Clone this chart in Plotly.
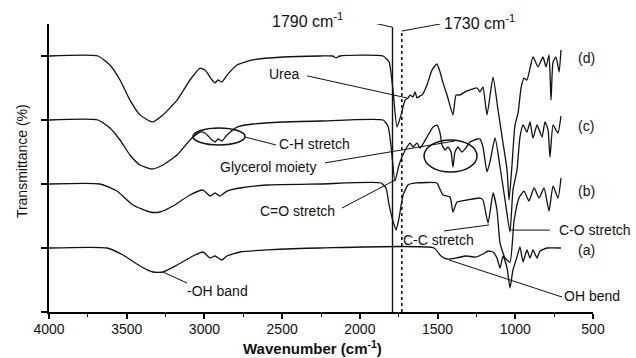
import plotly.graph_objects as go

# FTIR spectra, stacked: (a) bottom ... (d) top. Transmittance in offset units.
wn_a = [4000, 3627, 3524, 3415, 3331, 3267, 3176, 3074, 3009, 2964, 2932, 2887, 2855, 2771, 2597, 2256,
        1523, 1478, 1439, 1381, 1317, 1253, 1208, 1175, 1143, 1118, 1098, 1079, 1053, 1034, 1015, 989,
        970, 950, 925, 905, 886, 860, 841, 796, 706]
t_a = [1.0, 1.0, 0.89, 0.719, 0.625, 0.625, 0.734, 0.875, 0.9375, 0.844, 0.875, 0.8125, 0.875, 0.9375, 0.97, 1.0,
       1.0, 0.875, 0.828, 0.844, 0.875, 0.859, 0.906, 0.953, 0.9375, 0.844, 0.6875, 0.875, 0.6875, 0.375, 0.656, 0.859,
       1.016, 0.781, 0.969, 0.844, 0.969, 0.844, 0.953, 1.0, 1.0]

wn_b = [4000, 3672, 3563, 3460, 3350, 3286, 3202, 3093, 3009, 2964, 2932, 2900, 2855, 2771, 2597, 2256,
        1864, 1832, 1812, 1787, 1767, 1748, 1722, 1690, 1639, 1504, 1491, 1465, 1420, 1401, 1375, 1311,
        1227, 1208, 1175, 1143, 1118, 1098, 1066, 1034, 1008, 976, 944, 912, 879, 847, 815, 783, 757, 725, 706]
t_b = [2.0, 2.0, 1.89, 1.672, 1.5625, 1.5625, 1.656, 1.828, 1.906, 1.8125, 1.859, 1.8125, 1.89, 1.9375, 1.984, 2.0,
       2.016, 1.9375, 1.672, 1.422, 1.281, 1.469, 1.828, 1.984, 2.016, 2.016, 1.953, 1.828, 1.797, 1.5625, 1.719, 1.75,
       1.781, 1.75, 1.39, 1.859, 1.594, 1.078, 0.844, 0.78, 1.422, 1.781, 1.89, 1.734, 1.9375, 1.781, 1.9375, 1.578,
       1.97, 1.78, 2.094]

wn_c = [4000, 3685, 3608, 3543, 3479, 3415, 3337, 3267, 3176, 3093, 3028, 2996, 2951, 2932, 2913, 2887, 2855,
        2790, 2687, 2494, 2256, 1851, 1819, 1800, 1774, 1748, 1729, 1697, 1677, 1658, 1632, 1613, 1568, 1529,
        1504, 1484, 1471, 1452, 1433, 1413, 1401, 1388, 1369, 1343, 1323, 1291, 1246, 1227, 1208, 1182, 1163,
        1130, 1098, 1066, 1034, 1015, 989, 970, 950, 925, 905, 886, 860, 828, 809, 789, 777, 757, 738, 725, 706]
t_c = [3.0, 3.0, 2.875, 2.6875, 2.453, 2.297, 2.234, 2.297, 2.453, 2.6875, 2.8125, 2.797, 2.6875, 2.656, 2.703,
       2.672, 2.766, 2.89, 2.9375, 2.969, 2.984, 3.0, 2.906, 2.609, 2.047, 2.297, 2.422, 2.578, 2.64, 2.578, 2.64,
       2.5625, 2.734, 2.89, 2.92, 2.797, 2.609, 2.531, 2.578, 2.5, 2.266, 2.5, 2.578, 2.5, 2.547, 2.656, 2.703,
       2.703, 2.578, 2.19, 2.344, 2.719, 2.266, 1.75, 1.25, 1.906, 2.22, 2.734, 2.922, 2.8125, 2.969, 2.719, 2.922,
       2.734, 2.969, 2.844, 2.422, 2.922, 2.844, 2.797, 3.06]

wn_d = [4000, 3685, 3608, 3543, 3479, 3415, 3337, 3267, 3176, 3093, 3028, 2996, 2951, 2932, 2913, 2887, 2855,
        2790, 2687, 2494, 2256, 2175, 2153, 2128, 1851, 1812, 1787, 1761, 1735, 1709, 1690, 1677, 1658, 1645,
        1632, 1613, 1600, 1568, 1536, 1504, 1484, 1465, 1439, 1401, 1381, 1356, 1323, 1291, 1246, 1227, 1208,
        1182, 1143, 1111, 1079, 1053, 1040, 1021, 1002, 982, 963, 944, 925, 886, 854, 822, 802, 783, 770, 757,
        738, 718, 706]
t_d = [4.0, 4.0, 3.86, 3.625, 3.31, 3.08, 2.97, 3.08, 3.31, 3.625, 3.81, 3.78, 3.625, 3.58, 3.625, 3.594, 3.70,
       3.86, 3.94, 3.984, 4.0, 4.0, 3.97, 4.0, 4.0, 3.906, 3.47, 2.89, 3.08, 3.31, 3.344, 3.39, 3.36, 3.44,
       3.344, 3.375, 3.39, 3.547, 3.78, 3.875, 3.75, 3.58, 3.39, 3.08, 3.39, 3.39, 3.44, 3.47, 3.50, 3.44, 3.516,
       3.08, 3.67, 3.156, 2.64, 2.22, 1.75, 2.30, 2.92, 3.11, 3.50, 3.656, 3.625, 3.984, 3.83, 3.984, 3.83, 4.016,
       3.31, 3.906, 3.984, 3.75, 4.094]

series_names = ["(a)", "(b)", "(c)", "(d)"]
marker_wavenumbers = [1790, 1730]
x_tick_values = [4000, 3500, 3000, 2500, 2000, 1500, 1000, 500]

INK = "#111111"
FONT = "Liberation Sans, Arial, sans-serif"

fig = go.Figure()
for wn, t, name in zip([wn_a, wn_b, wn_c, wn_d], [t_a, t_b, t_c, t_d], series_names):
    fig.add_trace(go.Scatter(x=wn, y=t, mode="lines", name=name, showlegend=False,
                             line=dict(color=INK, width=1.3, shape="spline", smoothing=0.5)))

shapes = []
# reference lines at 1790 (solid) and 1730 (dotted)
shapes.append(dict(type="line", xref="x", yref="y", x0=marker_wavenumbers[0], x1=marker_wavenumbers[0],
                   y0=0, y1=4.45, line=dict(color=INK, width=1.4)))
shapes.append(dict(type="line", xref="x", yref="y", x0=marker_wavenumbers[1], x1=marker_wavenumbers[1],
                   y0=0, y1=4.39, line=dict(color=INK, width=1.6, dash="dot")))


def seg(x0, y0, x1, y1):
    shapes.append(dict(type="line", xref="x", yref="y", x0=x0, y0=y0, x1=x1, y1=y1,
                       line=dict(color=INK, width=1)))


# leader lines
seg(2031, 4.58, marker_wavenumbers[0], 4.45)
seg(1484, 4.50, marker_wavenumbers[1], 4.39)
seg(2340, 3.69, 1697, 3.344)          # Urea
seg(2739, 2.734, 2540, 2.61)          # C-H stretch
seg(2224, 2.33, 1388, 2.672)          # Glycerol moiety
seg(2115, 1.625, 1774, 2.06)          # C=O stretch
seg(1459, 1.266, 1169, 1.36)          # C-C stretch
seg(1027, 1.28, 777, 1.28)            # C-O stretch
seg(1426, 0.8125, 699, 0.234)         # OH bend
seg(3267, 0.625, 3112, 0.453)         # -OH band

# highlight ellipses
shapes.append(dict(type="circle", xref="x", yref="y", x0=3074, x1=2739, y0=2.609, y1=2.875,
                   line=dict(color=INK, width=1.5)))
shapes.append(dict(type="circle", xref="x", yref="y", x0=1587, x1=1246, y0=2.1875, y1=2.6875,
                   line=dict(color=INK, width=1.5)))

annotations = []


def label(text, x, y, size=14, anchor="left", yref="y"):
    annotations.append(dict(text=text, x=x, y=y, xref="x", yref=yref, showarrow=False,
                            xanchor=anchor, yanchor="middle",
                            font=dict(family=FONT, size=size, color=INK)))


# the two band-position labels sit above the plotting area
label("1790 cm<sup>-1</sup>", 2578, 1.0156, size=16, yref="paper")
label("1730 cm<sup>-1</sup>", 1471, 1.0067, size=16, yref="paper")
label("Urea", 2597, 3.72)
label("C-H stretch", 2533, 2.625)
label("Glycerol moiety", 2913, 2.266)
label("C=O stretch", 2655, 1.578)
label("C-C stretch", 1735, 1.125)
label("C-O stretch", 731, 1.28)
label("OH bend", 699, 0.25)
label("-OH band", 3125, 0.328)
for name, yv in zip(series_names, [0.97, 1.89, 2.906, 3.97]):
    label(name, 545, yv, anchor="center")

annotations.append(dict(text="<b>Wavenumber (cm<sup>-1</sup>)</b>", x=0.485, y=-0.122, xref="paper",
                        yref="paper", showarrow=False, xanchor="center", yanchor="middle",
                        font=dict(family=FONT, size=15, color=INK)))
annotations.append(dict(text="Transmittance (%)", x=-0.0496, y=0.524, xref="paper", yref="paper",
                        showarrow=False, xanchor="center", yanchor="middle", textangle=-90,
                        font=dict(family=FONT, size=14, color=INK)))

fig.update_layout(
    width=636, height=358,
    margin=dict(l=49, r=43, t=24, b=46),
    paper_bgcolor="white", plot_bgcolor="white",
    shapes=shapes, annotations=annotations,
    xaxis=dict(range=[4000, 500], tickvals=x_tick_values, ticks="outside", ticklen=5, tickwidth=1.5,
               tickcolor="black", showline=True, linecolor="black", linewidth=2, showgrid=False,
               zeroline=False, tickfont=dict(family=FONT, size=14, color=INK), ticklabelstandoff=-2,
               minor=dict(dtick=250, tick0=500, ticks="outside", ticklen=3, tickwidth=1.2, tickcolor="black")),
    yaxis=dict(range=[0, 4.5], tickvals=[0, 1, 2, 3, 4], ticks="outside", ticklen=6, tickwidth=1.5,
               tickcolor="black", showticklabels=False, showline=True, linecolor="black", linewidth=2,
               showgrid=False, zeroline=False),
)

fig.write_html("out.html")
